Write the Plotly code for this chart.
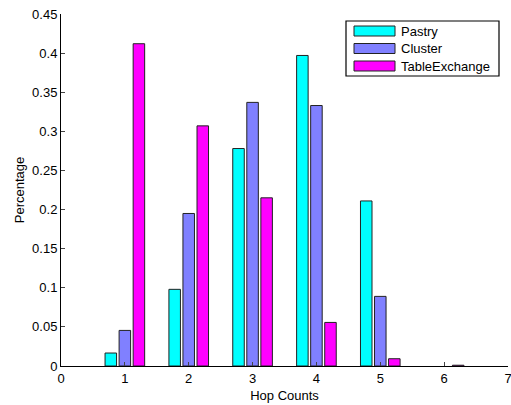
import plotly.graph_objects as go

hops = [1, 2, 3, 4, 5, 6]
pastry = [0.0166, 0.098, 0.278, 0.397, 0.211, None]
cluster = [0.0455, 0.195, 0.337, 0.333, 0.089, None]
table_exchange = [0.412, 0.307, 0.215, 0.0557, 0.0093, 0.001]

series_names = ["Pastry", "Cluster", "TableExchange"]
series_colors = ["#00FFFF", "#8080FF", "#FF00FF"]

y_tickvals = [0, 0.05, 0.1, 0.15, 0.2, 0.25, 0.3, 0.35, 0.4, 0.45]
y_ticktext = ["0", "0.05", "0.1", "0.15", "0.2", "0.25", "0.3", "0.35", "0.4", "0.45"]
x_tickvals = [0, 1, 2, 3, 4, 5, 6, 7]

W, H = 511, 405
ML, MR, MT, MB = 61, 3, 14, 39
PW, PH = W - ML - MR, H - MT - MB

def px_x(p):
    return (p - ML) / PW

def px_y(p):
    return (H - MB - p) / PH

fig = go.Figure()
for name, vals, col in zip(series_names, [pastry, cluster, table_exchange], series_colors):
    fig.add_trace(go.Bar(
        x=hops, y=vals, name=name, showlegend=False,
        marker=dict(color=col, line=dict(color="#222222", width=1)),
    ))

font_family = "Liberation Sans, Arial, Helvetica, sans-serif"

# legend box drawn MATLAB-style (wide swatches)
shapes = [dict(type="rect", xref="paper", yref="paper",
               x0=px_x(346), x1=px_x(499), y0=px_y(76), y1=px_y(21),
               line=dict(color="black", width=1.2), fillcolor="white", layer="above")]
annotations = []
row_y = [31, 48.5, 66]
for name, col, ry in zip(series_names, series_colors, row_y):
    shapes.append(dict(type="rect", xref="paper", yref="paper",
                       x0=px_x(354), x1=px_x(395), y0=px_y(ry + 5), y1=px_y(ry - 5),
                       line=dict(color="#222222", width=1), fillcolor=col, layer="above"))
    annotations.append(dict(xref="paper", yref="paper", x=px_x(399), y=px_y(ry),
                            xanchor="left", yanchor="middle", text=name, showarrow=False,
                            font=dict(size=13, family=font_family, color="black")))

fig.update_layout(
    width=W, height=H,
    margin=dict(l=ML, r=MR, t=MT, b=MB),
    paper_bgcolor="white", plot_bgcolor="white",
    barmode="group", bargap=0.34, bargroupgap=0.18,
    font=dict(family=font_family, size=13, color="black"),
    showlegend=False,
    shapes=shapes, annotations=annotations,
    xaxis=dict(
        range=[0, 7], tickvals=x_tickvals, ticks="inside", ticklen=4,
        showline=True, linecolor="black", linewidth=1, mirror=False,
        showgrid=False, zeroline=False, automargin=False,
        ticklabeloverflow="allow",
        title=dict(text="Hop Counts", font=dict(size=13), standoff=6),
    ),
    yaxis=dict(
        range=[0, 0.45], tickvals=y_tickvals, ticktext=y_ticktext,
        ticks="inside", ticklen=4,
        showline=True, linecolor="black", linewidth=1,
        showgrid=False, zeroline=False, automargin=False,
        title=dict(text="Percentage", font=dict(size=13), standoff=4),
    ),
)

fig.write_html("out.html", config={"displayModeBar": False},
               post_script="document.body.style.margin='0';document.body.style.padding='0';")
